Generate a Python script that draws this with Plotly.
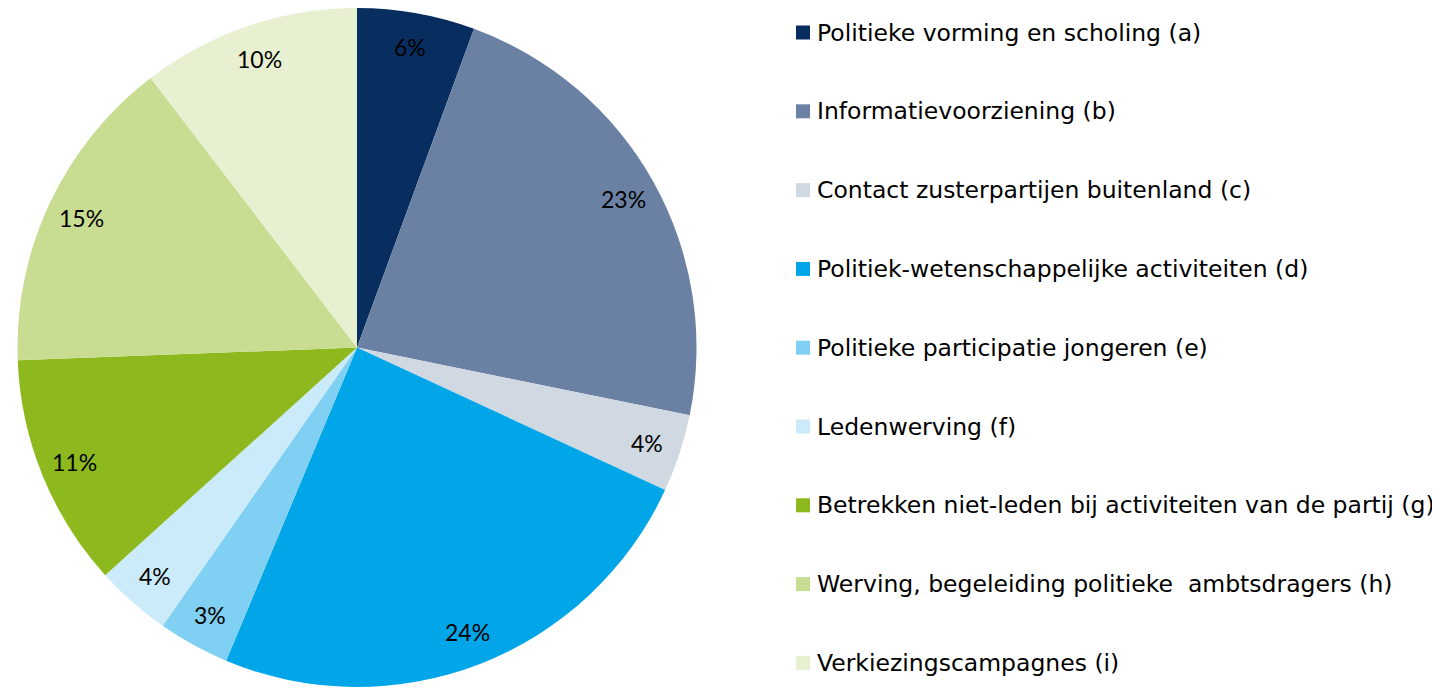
import math
import plotly.graph_objects as go

# ---- data ----
labels = [
    "Politieke vorming en scholing (a)",
    "Informatievoorziening (b)",
    "Contact zusterpartijen buitenland (c)",
    "Politiek-wetenschappelijke activiteiten (d)",
    "Politieke participatie jongeren (e)",
    "Ledenwerving (f)",
    "Betrekken niet-leden bij activiteiten van de partij (g)",
    "Werving, begeleiding politieke  ambtsdragers (h)",
    "Verkiezingscampagnes (i)",
]
values = [5.6, 22.6, 3.7, 24.4, 3.4, 3.6, 11.1, 15.2, 10.4]
colors = ["#082D5F", "#6A81A3", "#D0D8E2", "#00A6E8", "#7FD0F2",
          "#CCEBFA", "#8DB91E", "#C9DD92", "#E8F0D2"]

W, H = 1440, 689
OFF = 8  # page body margin
cx_px, cy_px, R_px = 357 - OFF, 347.5 - OFF, 340.5

fig = go.Figure()
fig.add_trace(go.Pie(
    labels=labels, values=values, sort=False, direction="clockwise",
    rotation=0, marker=dict(colors=colors, line=dict(width=0)),
    textinfo="none", hoverinfo="label+percent", showlegend=False,
    domain=dict(x=[(cx_px - R_px) / W, (cx_px + R_px) / W],
                y=[max(0.0, 1 - (cy_px + cy_px) / H), 1.0]),
))

# percent labels at mid-angle of each slice, ~0.895 R
total = sum(values)
cum = 0.0
annotations = []
for v in values:
    mid = (cum + v / 2) / total * 2 * math.pi
    cum += v
    x = cx_px + 0.895 * R_px * math.sin(mid)
    y = cy_px - 0.895 * R_px * math.cos(mid)
    annotations.append(dict(
        x=x / W, y=1 - y / H, xref="paper", yref="paper",
        text=f"{round(v / total * 100)}%", showarrow=False,
        font=dict(family="Lato", size=23, color="#000000"),
        xanchor="center", yanchor="middle"))

# manual legend
shapes = []
row0, step = 32.5 - OFF, 78.8
for i, (lab, col) in enumerate(zip(labels, colors)):
    yc = row0 + i * step
    shapes.append(dict(type="rect", xref="paper", yref="paper",
                       x0=(796 - OFF) / W, x1=(810 - OFF) / W,
                       y0=1 - (yc + 7) / H, y1=1 - (yc - 7) / H,
                       fillcolor=col, line=dict(width=0)))
    annotations.append(dict(
        x=(815 - OFF) / W, y=1 - yc / H, xref="paper", yref="paper",
        text=lab, showarrow=False, xanchor="left", yanchor="middle",
        font=dict(family="DejaVu Sans", size=23.5, color="#000000")))

fig.update_layout(
    width=W, height=H, margin=dict(l=0, r=0, t=0, b=0),
    paper_bgcolor="white", plot_bgcolor="white",
    annotations=annotations, shapes=shapes, showlegend=False,
)
fig.write_html("out.html")
